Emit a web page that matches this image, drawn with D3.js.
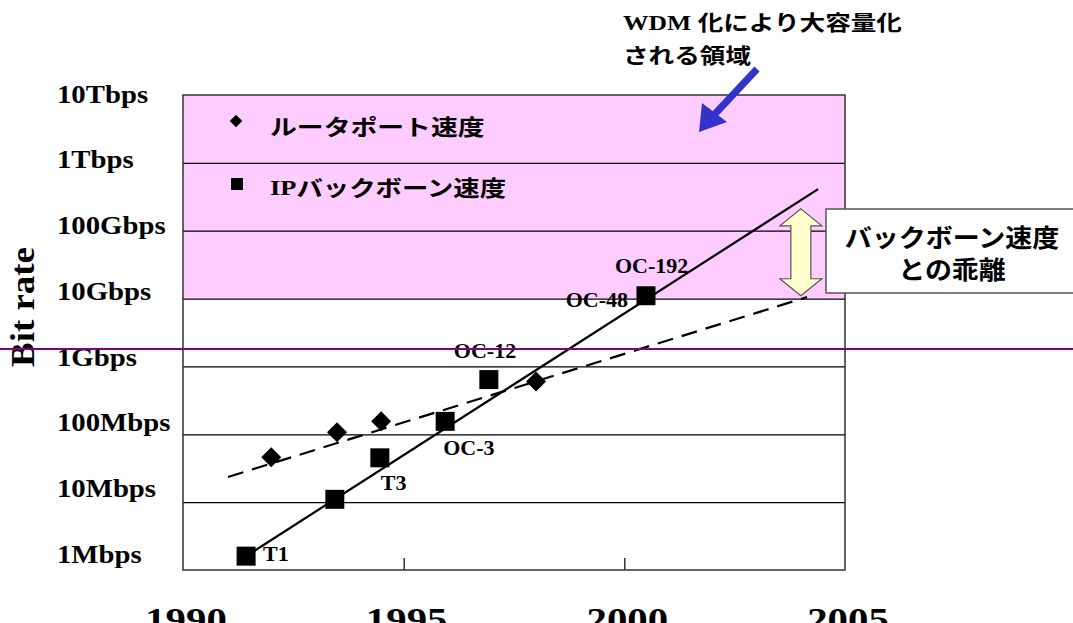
<!DOCTYPE html>
<html>
<head>
<meta charset="utf-8">
<script src="https://cdn.jsdelivr.net/npm/d3@7"></script>
<style>
  body { margin: 0; background: #fff; }
  svg { display: block; }
</style>
</head>
<body>
<div id="chart"></div>
<script>
// ---- data ----
const yTickValues = [1e6, 1e7, 1e8, 1e9, 1e10, 1e11, 1e12, 1e13];
const yTickLabels = ['1Mbps', '10Mbps', '100Mbps', '1Gbps', '10Gbps', '100Gbps', '1Tbps', '10Tbps'];
const xTickYears = [1990, 1995, 2000, 2005];

// IP backbone speed (squares)
const backboneYears = [1991.43, 1993.44, 1994.46, 1995.94, 1996.93, 2000.49];
const backboneRates = [1.6e6, 1.1e7, 4.5e7, 1.55e8, 6.4e8, 1.1e10];
const backboneLabels = ['T1', '', 'T3', 'OC-3', 'OC-12', 'OC-48'];

// router port speed (diamonds)
const routerYears = [1992.0, 1993.49, 1994.49, 1998.0];
const routerRates = [4.6e7, 1.07e8, 1.56e8, 6.0e8];

// trend lines (start / end)
const backboneTrendYears = [1991.43, 2004.39];
const backboneTrendRates = [1.6e6, 4.1e11];
const routerTrendYears = [1991.02, 2004.14];
const routerTrendRates = [2.35e7, 1.05e10];

// WDM band and gap arrow
const wdmBand = [1e10, 1e13];
const gapYear = 2004.0;
const gapRates = [1.1e10, 2.1e11];
const markerRate = 1.8e9;   // purple horizontal rule

const width = 1073;
const height = 623;
const margin = { top: 95, right: 228, bottom: 53, left: 183 };

const serif = '"Liberation Serif", "Times New Roman", serif';
const cjk = '"Noto Sans CJK JP", "Noto Sans", sans-serif';

const svg = d3.select('#chart')
    .append('svg')
    .attr('width', width)
    .attr('height', height);

const xScale = d3.scaleLinear()
    .domain([1990, 2005])
    .range([margin.left, width - margin.right]);

const yScale = d3.scaleLog()
    .domain([1e6, 1e13])
    .range([height - margin.bottom, margin.top]);

// tick labels sit on a slightly tighter spacing than the grid
const yLabelScale = d3.scaleLog()
    .domain([1e6, 1e13])
    .range([557, 97]);

// text helper, with optional horizontal stretch
function addText(parent, str, x, y, o) {
    const t = parent.append('text')
        .attr('transform', `translate(${x},${y}) ${o.rotate ? `rotate(${o.rotate})` : ''} scale(${o.sx || 1},1)`)
        .attr('font-family', o.family || serif)
        .attr('font-weight', 'bold')
        .attr('font-size', o.size)
        .attr('text-anchor', o.anchor || 'start')
        .attr('fill', o.fill || '#000');
    if (o.baseline) t.attr('dominant-baseline', o.baseline);
    if (o.parts) {
        o.parts.forEach(p => t.append('tspan').attr('font-family', p[1]).text(p[0]));
    } else {
        t.text(str);
    }
    return t;
}

// pink band
svg.append('rect')
    .attr('x', xScale(1990))
    .attr('width', xScale(2005) - xScale(1990))
    .attr('y', yScale(wdmBand[1]))
    .attr('height', yScale(wdmBand[0]) - yScale(wdmBand[1]))
    .attr('fill', '#ffccff');

// gridlines
const grid = svg.append('g')
    .attr('class', 'gridlines')
    .attr('transform', `translate(${margin.left},0)`)
    .call(d3.axisLeft(yScale)
        .tickValues(yTickValues.slice(1, -1))
        .tickFormat('')
        .tickSize(-(xScale(2005) - xScale(1990))));
grid.select('.domain').remove();
grid.selectAll('line').attr('stroke', '#000').attr('stroke-width', 1.2);

// x ticks (inside, upward)
const xAxis = svg.append('g')
    .attr('transform', `translate(0,${yScale(1e6)})`)
    .call(d3.axisBottom(xScale).tickValues([1995, 2000]).tickFormat('').tickSize(-12));
xAxis.select('.domain').remove();
xAxis.selectAll('line').attr('stroke', '#000').attr('stroke-width', 1.2);

// plot frame
svg.append('rect')
    .attr('x', xScale(1990))
    .attr('y', yScale(1e13))
    .attr('width', xScale(2005) - xScale(1990))
    .attr('height', yScale(1e6) - yScale(1e13))
    .attr('fill', 'none')
    .attr('stroke', '#333')
    .attr('stroke-width', 1.5);

// y labels
yTickValues.forEach((v, i) => {
    addText(svg, yTickLabels[i], 57, yLabelScale(v), { size: 25, sx: 1.15, baseline: 'middle' });
});

// x labels (cut by the bottom edge)
xTickYears.forEach(yr => {
    addText(svg, String(yr), xScale(yr) + 3, 631, { size: 34, sx: 1.2, anchor: 'middle' });
});

// axis title
addText(svg, 'Bit rate', 34, 307, { size: 33, sx: 1.12, rotate: -90, anchor: 'middle' });

// trend lines
const line = d3.line().x(d => xScale(d[0])).y(d => yScale(d[1]));

svg.append('path')
    .datum(backboneTrendYears.map((y, i) => [y, backboneTrendRates[i]]))
    .attr('d', line)
    .attr('fill', 'none')
    .attr('stroke', '#000')
    .attr('stroke-width', 2.2);

svg.append('path')
    .datum(routerTrendYears.map((y, i) => [y, routerTrendRates[i]]))
    .attr('d', line)
    .attr('fill', 'none')
    .attr('stroke', '#000')
    .attr('stroke-width', 2.2)
    .attr('stroke-dasharray', '16,9');

// markers
svg.append('g')
    .selectAll('path')
    .data(routerYears.map((y, i) => [y, routerRates[i]]))
    .join('path')
    .attr('d', d3.symbol().type(d3.symbolSquare).size(200))
    .attr('transform', d => `translate(${xScale(d[0])},${yScale(d[1])}) rotate(45)`)
    .attr('fill', '#000');

svg.append('g')
    .selectAll('path')
    .data(backboneYears.map((y, i) => [y, backboneRates[i]]))
    .join('path')
    .attr('d', d3.symbol().type(d3.symbolSquare).size(361))
    .attr('transform', d => `translate(${xScale(d[0])},${yScale(d[1])})`)
    .attr('fill', '#000');

// point labels, offsets from each square
const labelOffsets = {
    'T1': [17, 5, 'start'],
    'T3': [1, 32, 'start'],
    'OC-3': [-2, 34, 'start'],
    'OC-12': [-35, -22, 'start'],
    'OC-48': [-18, 11, 'end']
};
backboneLabels.forEach((lab, i) => {
    if (!lab) return;
    const [dx, dy, anchor] = labelOffsets[lab];
    addText(svg, lab, xScale(backboneYears[i]) + dx, yScale(backboneRates[i]) + dy,
        { size: 22, anchor });
});
// OC-192 shares the last square
const last = backboneYears.length - 1;
addText(svg, 'OC-192', xScale(backboneYears[last]) - 31, yScale(backboneRates[last]) - 23,
    { size: 22 });

// purple rule
svg.append('line')
    .attr('x1', 0).attr('x2', width)
    .attr('y1', yScale(markerRate)).attr('y2', yScale(markerRate))
    .attr('stroke', '#800080')
    .attr('stroke-width', 2);

// legend
svg.append('path')
    .attr('d', d3.symbol().type(d3.symbolSquare).size(80))
    .attr('transform', 'translate(236,121) rotate(45)');
addText(svg, 'ルータポート速度', 270, 129, { size: 22, sx: 1.22, family: cjk, baseline: 'middle' });
svg.append('rect').attr('x', 231).attr('y', 178).attr('width', 12).attr('height', 12);
addText(svg, '', 270, 190, {
    size: 22, sx: 1.2, baseline: 'middle',
    parts: [['IP', serif], ['バックボーン速度', cjk]]
});

// WDM annotation
addText(svg, '', 623, 30, {
    size: 21, sx: 1.22,
    parts: [['WDM ', serif], ['化により大容量化', cjk]]
});
addText(svg, 'される領域', 623, 63, { size: 21, sx: 1.22, family: cjk });

// blue arrow
svg.append('line')
    .attr('x1', 757).attr('y1', 69).attr('x2', 714).attr('y2', 115)
    .attr('stroke', '#3333cc').attr('stroke-width', 7);
svg.append('path')
    .attr('d', 'M699,132 L702,103 L727,122 Z')
    .attr('fill', '#3333cc');

// yellow double arrow showing the gap
const gx = xScale(gapYear);
const gTop = yScale(gapRates[1]);
const gBot = yScale(gapRates[0]);
const hw = 21, sw = 10, hh = 17;
svg.append('path')
    .attr('d', `M${gx},${gTop} L${gx + hw},${gTop + hh} L${gx + sw},${gTop + hh}
        L${gx + sw},${gBot - hh} L${gx + hw},${gBot - hh} L${gx},${gBot}
        L${gx - hw},${gBot - hh} L${gx - sw},${gBot - hh} L${gx - sw},${gTop + hh}
        L${gx - hw},${gTop + hh} Z`)
    .attr('fill', '#ffffcc')
    .attr('stroke', '#555')
    .attr('stroke-width', 1.2);

// callout box
svg.append('rect')
    .attr('x', 826).attr('y', 209)
    .attr('width', 260).attr('height', 84)
    .attr('fill', '#fff')
    .attr('stroke', '#555')
    .attr('stroke-width', 1.5);
addText(svg, 'バックボーン速度', 952, 240, { size: 25, sx: 1.08, family: cjk, anchor: 'middle', baseline: 'middle' });
addText(svg, 'との乖離', 952, 272, { size: 25, sx: 1.08, family: cjk, anchor: 'middle', baseline: 'middle' });
</script>
</body>
</html>
